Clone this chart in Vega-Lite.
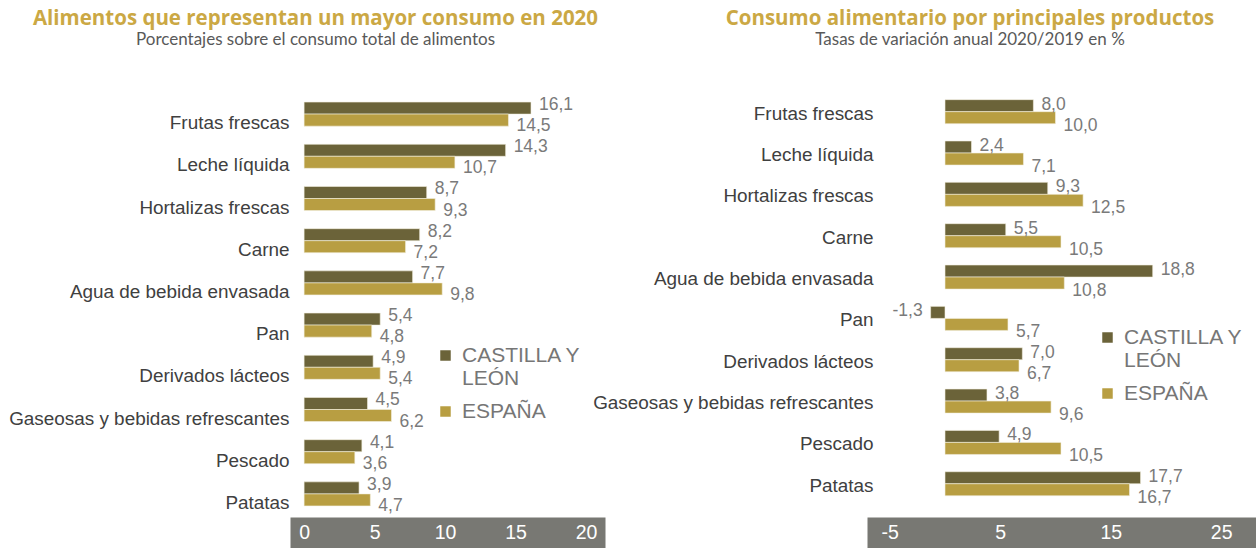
{
  "$schema": "https://vega.github.io/schema/vega-lite/v6.json",
  "padding": {"left": 8, "top": 8, "right": 0, "bottom": 6},
  "background": "white",
  "config": {
    "view": {"stroke": null},
    "locale": {"number": {"decimal": ",", "thousands": ".", "grouping": [3], "currency": ["", " €"], "minus": "-"}},
    "axisY": {"domain": false, "ticks": false, "grid": false, "title": null, "labelFont": "Liberation Sans", "labelFontSize": 18.9, "labelColor": "#404040", "labelLimit": 400},
    "axisX": {"grid": false, "title": null, "ticks": false, "tickSize": 0, "domainColor": "#787873", "domainWidth": 33, "domainCap": "butt", "labelColor": "#ffffff", "labelFont": "Liberation Sans", "labelFontSize": 19.5, "labelBaseline": "middle", "labelPadding": -1, "labelFlush": false, "labelOverlap": false, "format": "d"},
    "legend": {"orient": "none", "title": null, "symbolType": "square", "symbolSize": 110, "symbolStrokeWidth": 0, "labelFont": "Liberation Sans", "labelFontSize": 21, "labelColor": "#767676", "labelOffset": 6, "labelLimit": 300, "rowPadding": 11, "labelLineHeight": 24},
    "title": {"font": "Open Sans", "fontSize": 20.5, "fontWeight": "bold", "color": "#CBA844", "subtitleFont": "Lato", "subtitleFontSize": 17, "subtitleColor": "#595959", "subtitlePadding": 3, "frame": "group", "anchor": "middle", "offset": 45}
  },
  "datasets": {
    "consumo": [
      {"producto": "Frutas frescas", "region": "CASTILLA Y LEÓN", "valor": 16.1},
      {"producto": "Frutas frescas", "region": "ESPAÑA", "valor": 14.5},
      {"producto": "Leche líquida", "region": "CASTILLA Y LEÓN", "valor": 14.3},
      {"producto": "Leche líquida", "region": "ESPAÑA", "valor": 10.7},
      {"producto": "Hortalizas frescas", "region": "CASTILLA Y LEÓN", "valor": 8.7},
      {"producto": "Hortalizas frescas", "region": "ESPAÑA", "valor": 9.3},
      {"producto": "Carne", "region": "CASTILLA Y LEÓN", "valor": 8.2},
      {"producto": "Carne", "region": "ESPAÑA", "valor": 7.2},
      {"producto": "Agua de bebida envasada", "region": "CASTILLA Y LEÓN", "valor": 7.7},
      {"producto": "Agua de bebida envasada", "region": "ESPAÑA", "valor": 9.8},
      {"producto": "Pan", "region": "CASTILLA Y LEÓN", "valor": 5.4},
      {"producto": "Pan", "region": "ESPAÑA", "valor": 4.8},
      {"producto": "Derivados lácteos", "region": "CASTILLA Y LEÓN", "valor": 4.9},
      {"producto": "Derivados lácteos", "region": "ESPAÑA", "valor": 5.4},
      {"producto": "Gaseosas y bebidas refrescantes", "region": "CASTILLA Y LEÓN", "valor": 4.5},
      {"producto": "Gaseosas y bebidas refrescantes", "region": "ESPAÑA", "valor": 6.2},
      {"producto": "Pescado", "region": "CASTILLA Y LEÓN", "valor": 4.1},
      {"producto": "Pescado", "region": "ESPAÑA", "valor": 3.6},
      {"producto": "Patatas", "region": "CASTILLA Y LEÓN", "valor": 3.9},
      {"producto": "Patatas", "region": "ESPAÑA", "valor": 4.7}
    ],
    "variacion": [
      {"producto": "Frutas frescas", "region": "CASTILLA Y LEÓN", "valor": 8.0},
      {"producto": "Frutas frescas", "region": "ESPAÑA", "valor": 10.0},
      {"producto": "Leche líquida", "region": "CASTILLA Y LEÓN", "valor": 2.4},
      {"producto": "Leche líquida", "region": "ESPAÑA", "valor": 7.1},
      {"producto": "Hortalizas frescas", "region": "CASTILLA Y LEÓN", "valor": 9.3},
      {"producto": "Hortalizas frescas", "region": "ESPAÑA", "valor": 12.5},
      {"producto": "Carne", "region": "CASTILLA Y LEÓN", "valor": 5.5},
      {"producto": "Carne", "region": "ESPAÑA", "valor": 10.5},
      {"producto": "Agua de bebida envasada", "region": "CASTILLA Y LEÓN", "valor": 18.8},
      {"producto": "Agua de bebida envasada", "region": "ESPAÑA", "valor": 10.8},
      {"producto": "Pan", "region": "CASTILLA Y LEÓN", "valor": -1.3},
      {"producto": "Pan", "region": "ESPAÑA", "valor": 5.7},
      {"producto": "Derivados lácteos", "region": "CASTILLA Y LEÓN", "valor": 7.0},
      {"producto": "Derivados lácteos", "region": "ESPAÑA", "valor": 6.7},
      {"producto": "Gaseosas y bebidas refrescantes", "region": "CASTILLA Y LEÓN", "valor": 3.8},
      {"producto": "Gaseosas y bebidas refrescantes", "region": "ESPAÑA", "valor": 9.6},
      {"producto": "Pescado", "region": "CASTILLA Y LEÓN", "valor": 4.9},
      {"producto": "Pescado", "region": "ESPAÑA", "valor": 10.5},
      {"producto": "Patatas", "region": "CASTILLA Y LEÓN", "valor": 17.7},
      {"producto": "Patatas", "region": "ESPAÑA", "valor": 16.7}
    ]
  },
  "resolve": {"scale": {"color": "independent"}, "legend": {"color": "independent"}},
  "spacing": -13,
  "hconcat": [
    {
      "width": 315,
      "height": 422,
      "title": {"text": "Alimentos que representan un mayor consumo en 2020", "subtitle": "Porcentajes sobre el consumo total de alimentos", "dx": -132},
      "data": {"name": "consumo"},
      "encoding": {
        "y": {"field": "producto", "type": "nominal", "sort": null, "scale": {"paddingInner": 0.43, "paddingOuter": 0.215}, "axis": {"labelOffset": 9, "labelPadding": 1}},
        "yOffset": {"field": "region", "type": "nominal", "sort": ["CASTILLA Y LEÓN", "ESPAÑA"], "scale": {"paddingInner": 0, "paddingOuter": 0}}
      },
      "resolve": {"axis": {"x": "independent"}},
      "layer": [
        {
          "mark": {"type": "bar", "stroke": "#f4f0e0", "strokeWidth": 0.6},
          "encoding": {
            "x": {"field": "valor", "type": "quantitative", "scale": {"domain": [-1.0, 21.35], "nice": false, "zero": false}, "axis": {"orient": "bottom", "labels": false, "values": [0, 5, 10, 15, 20], "offset": 18.5}},
            "color": {"field": "region", "type": "nominal", "sort": ["CASTILLA Y LEÓN", "ESPAÑA"], "scale": {"domain": ["CASTILLA Y LEÓN", "ESPAÑA"], "range": ["#6B6339", "#B89E42"]},
              "legend": {"legendX": 145, "legendY": 252, "labelExpr": "datum.label == 'CASTILLA Y LEÓN' ? ['CASTILLA Y', 'LEÓN'] : datum.label"}}
          }
        },
        {
          "transform": [{"filter": "datum.region == 'CASTILLA Y LEÓN'"}],
          "mark": {"type": "text", "align": "left", "baseline": "middle", "dx": 8, "dy": -3, "font": "Liberation Sans", "fontSize": 17.5, "color": "#7a7a7a"},
          "encoding": {
            "x": {"field": "valor", "type": "quantitative", "axis": {"orient": "bottom", "domain": false, "values": [0, 5, 10, 15, 20], "offset": 18.5, "zindex": 2}},
            "text": {"field": "valor", "type": "quantitative", "format": ".1f"}
          }
        },
        {
          "transform": [{"filter": "datum.region == 'ESPAÑA'"}],
          "mark": {"type": "text", "align": "left", "baseline": "middle", "dx": 8, "dy": 6, "font": "Liberation Sans", "fontSize": 17.5, "color": "#7a7a7a"},
          "encoding": {
            "x": {"field": "valor", "type": "quantitative", "axis": null},
            "text": {"field": "valor", "type": "quantitative", "format": ".1f"}
          }
        }
      ]
    },
    {
      "width": 390,
      "height": 413.4,
      "title": {"text": "Consumo alimentario por principales productos", "subtitle": "Tasas de variación anual 2020/2019 en %", "dx": -92},
      "data": {"name": "variacion"},
      "encoding": {
        "y": {"field": "producto", "type": "nominal", "sort": null, "scale": {"paddingInner": 0.3225, "paddingOuter": 0.161}, "axis": {"labelOffset": 0, "labelPadding": -6}},
        "yOffset": {"field": "region", "type": "nominal", "sort": ["CASTILLA Y LEÓN", "ESPAÑA"], "scale": {"paddingInner": 0, "paddingOuter": 0}}
      },
      "resolve": {"axis": {"x": "independent"}},
      "layer": [
        {
          "mark": {"type": "bar", "stroke": "#f4f0e0", "strokeWidth": 0.6},
          "encoding": {
            "x": {"field": "valor", "type": "quantitative", "scale": {"domain": [-7.06, 28.24], "nice": false, "zero": false}, "axis": {"orient": "bottom", "labels": false, "values": [-5, 5, 15, 25], "offset": 27.1}},
            "color": {"field": "region", "type": "nominal", "sort": ["CASTILLA Y LEÓN", "ESPAÑA"], "scale": {"domain": ["CASTILLA Y LEÓN", "ESPAÑA"], "range": ["#6B6339", "#B89E42"]},
              "legend": {"legendX": 230, "legendY": 234, "labelExpr": "datum.label == 'CASTILLA Y LEÓN' ? ['CASTILLA Y', 'LEÓN'] : datum.label"}}
          }
        },
        {
          "transform": [{"filter": "datum.region == 'CASTILLA Y LEÓN' && datum.valor >= 0"}],
          "mark": {"type": "text", "align": "left", "baseline": "middle", "dx": 8, "dy": -1, "font": "Liberation Sans", "fontSize": 17.5, "color": "#7a7a7a"},
          "encoding": {
            "x": {"field": "valor", "type": "quantitative", "axis": {"orient": "bottom", "domain": false, "values": [-5, 5, 15, 25], "offset": 27.1, "zindex": 2}},
            "text": {"field": "valor", "type": "quantitative", "format": ".1f"}
          }
        },
        {
          "transform": [{"filter": "datum.region == 'CASTILLA Y LEÓN' && datum.valor < 0"}],
          "mark": {"type": "text", "align": "right", "baseline": "middle", "dx": -8, "dy": -1, "font": "Liberation Sans", "fontSize": 17.5, "color": "#7a7a7a"},
          "encoding": {
            "x": {"field": "valor", "type": "quantitative", "axis": null},
            "text": {"field": "valor", "type": "quantitative", "format": ".1f"}
          }
        },
        {
          "transform": [{"filter": "datum.region == 'ESPAÑA'"}],
          "mark": {"type": "text", "align": "left", "baseline": "middle", "dx": 8, "dy": 8, "font": "Liberation Sans", "fontSize": 17.5, "color": "#7a7a7a"},
          "encoding": {
            "x": {"field": "valor", "type": "quantitative", "axis": null},
            "text": {"field": "valor", "type": "quantitative", "format": ".1f"}
          }
        }
      ]
    }
  ]
}
